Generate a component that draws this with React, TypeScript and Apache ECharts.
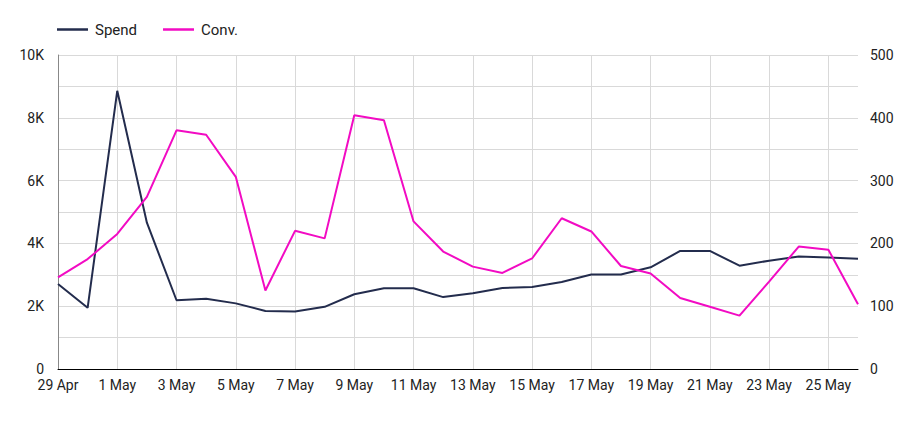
import React, { useEffect, useRef } from "react";
import * as echarts from "echarts";

const dates = [
  "29 Apr", "30 Apr", "1 May", "2 May", "3 May", "4 May", "5 May", "6 May", "7 May", "8 May",
  "9 May", "10 May", "11 May", "12 May", "13 May", "14 May", "15 May", "16 May", "17 May", "18 May",
  "19 May", "20 May", "21 May", "22 May", "23 May", "24 May", "25 May", "26 May",
];

const spend = [
  2710, 1950, 8860, 4660, 2190, 2240, 2090, 1850, 1830, 1980,
  2380, 2570, 2570, 2290, 2410, 2580, 2610, 2770, 3010, 3010,
  3240, 3760, 3760, 3290, 3450, 3580, 3550, 3510,
];

const conv = [
  146, 175, 215, 274, 380, 373, 306, 125, 220, 208,
  404, 396, 235, 187, 163, 153, 176, 240, 219, 164,
  152, 113, 99, 85, 139, 195, 190, 103,
];

const SPEND_COLOR = "#232c4d";
const CONV_COLOR = "#f20bc3";
const FONT = "Roboto";

export default function App() {
  const ref = useRef<HTMLDivElement>(null);
  useEffect(() => {
    if (!ref.current) return;
    const chart = echarts.init(ref.current, undefined, { renderer: "svg" });
    chart.setOption({
      animation: false,
      textStyle: { fontFamily: FONT },
      legend: {
        top: 17,
        left: 52,
        icon: "rect",
        itemWidth: 31,
        itemHeight: 2.5,
        itemGap: 26,
        textStyle: { fontSize: 15, color: "#222", fontFamily: FONT, padding: [0, 0, 0, 2] },
        data: ["Spend", "Conv."],
      },
      grid: { left: 58, right: 45, top: 55, bottom: 52, containLabel: false },
      xAxis: {
        type: "category",
        data: dates,
        boundaryGap: false,
        axisLine: { show: true, lineStyle: { color: "#000", width: 1 } },
        axisTick: { show: false },
        axisLabel: { interval: 1, color: "#222", fontSize: 14, margin: 9, fontFamily: FONT },
        splitLine: { show: true, interval: 1, lineStyle: { color: "#d9d9d9", width: 1 } },
      },
      yAxis: [
        {
          type: "value",
          min: 0,
          max: 10000,
          interval: 2000,
          axisLine: { show: true, lineStyle: { color: "#888", width: 1 } },
          axisTick: { show: false },
          axisLabel: {
            color: "#222",
            fontSize: 14,
            margin: 14,
            fontFamily: FONT,
            formatter: (v: number) => (v === 0 ? "0" : v / 1000 + "K"),
          },
          splitLine: { show: true, lineStyle: { color: "#d9d9d9", width: 1 } },
          minorTick: { show: false, splitNumber: 2 },
          minorSplitLine: { show: true, lineStyle: { color: "#d9d9d9", width: 1 } },
        },
        {
          type: "value",
          min: 0,
          max: 500,
          interval: 100,
          position: "right",
          axisLine: { show: false },
          axisTick: { show: false },
          axisLabel: { color: "#222", fontSize: 14, margin: 12, fontFamily: FONT },
          splitLine: { show: false },
        },
      ],
      series: [
        {
          name: "Spend",
          type: "line",
          data: spend,
          yAxisIndex: 0,
          symbol: "none",
          lineStyle: { color: SPEND_COLOR, width: 2 },
          itemStyle: { color: SPEND_COLOR },
        },
        {
          name: "Conv.",
          type: "line",
          data: conv,
          yAxisIndex: 1,
          symbol: "none",
          lineStyle: { color: CONV_COLOR, width: 2 },
          itemStyle: { color: CONV_COLOR },
        },
      ],
    });
    return () => chart.dispose();
  }, []);
  return <div ref={ref} style={{ width: 903, height: 421, position: "absolute", left: 0, top: 0 }} />;
}
